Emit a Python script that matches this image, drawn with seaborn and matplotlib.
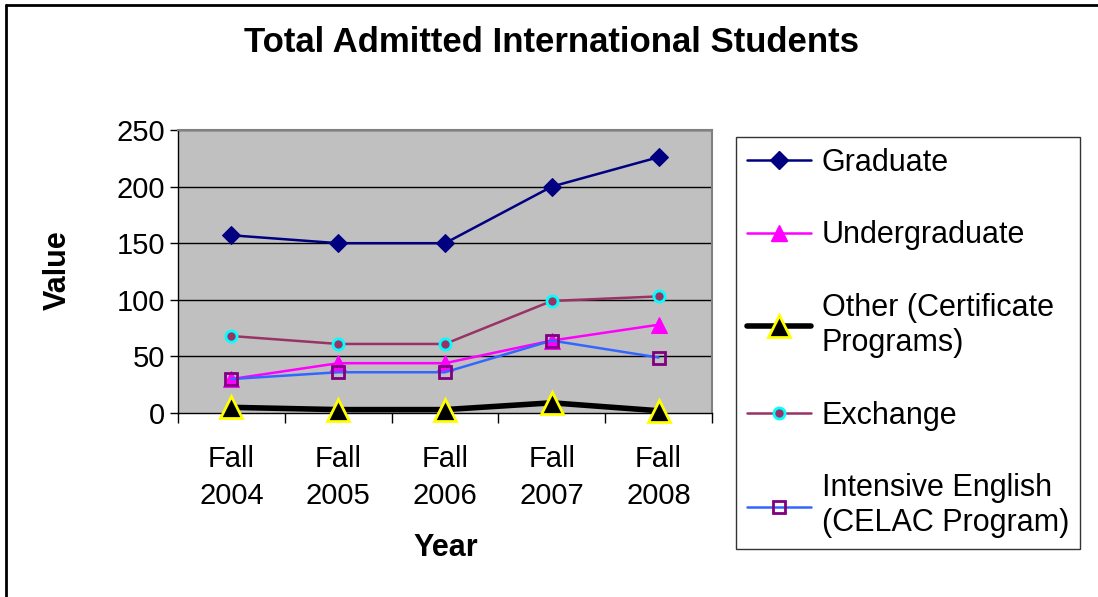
import matplotlib
matplotlib.use("Agg")
import matplotlib.pyplot as plt
import seaborn as sns
import pandas as pd
from matplotlib.lines import Line2D

# Datos
years = ["Fall\n2004", "Fall\n2005", "Fall\n2006", "Fall\n2007", "Fall\n2008"]
graduate = [157, 150, 150, 200, 226]
undergraduate = [30, 44, 44, 64, 78]
other = [5, 3, 3, 9, 2]
exchange = [68, 61, 61, 99, 103]
intensive_english = [30, 36, 36, 64, 49]

series_names = ["Graduate", "Undergraduate", "Other (Certificate\nPrograms)",
                "Exchange", "Intensive English\n(CELAC Program)"]
yticks = [0, 50, 100, 150, 200, 250]

sns.set_style("white")
plt.rcParams['font.family'] = ['Liberation Sans', 'DejaVu Sans']
plt.rcParams['text.color'] = 'black'
plt.rcParams['axes.labelcolor'] = 'black'
plt.rcParams['xtick.color'] = 'black'
plt.rcParams['ytick.color'] = 'black'

fig = plt.figure(figsize=(10.98, 5.97), dpi=100)
ax = fig.add_axes([178/1098, 1 - 413/597, 534/1098, 283/597])
ax.set_facecolor("#C0C0C0")

# estilos por serie
styles = [
    dict(color="#000080", marker="D", markersize=9, markerfacecolor="#000080",
         markeredgecolor="#000080", linewidth=1.8),
    dict(color="#FF00FF", marker="^", markersize=11, markerfacecolor="#FF00FF",
         markeredgecolor="#FF00FF", linewidth=1.8),
    dict(color="black", marker="^", markersize=16, markerfacecolor="black",
         markeredgecolor="#FFFF00", markeredgewidth=2, linewidth=4),
    dict(color="#993366", marker="o", markersize=8, markerfacecolor="#993366",
         markeredgecolor="#00FFFF", markeredgewidth=2, linewidth=1.8),
    dict(color="#3366FF", marker="s", markersize=9, markerfacecolor="none",
         markeredgecolor="#800080", markeredgewidth=2, linewidth=1.8),
]
data_list = [graduate, undergraduate, other, exchange, intensive_english]

# lineas de la grilla
for yt in yticks[1:]:
    ax.axhline(yt, color="black", linewidth=1.0, zorder=0.5)

handles = []
for name, vals, st in zip(series_names, data_list, styles):
    df = pd.DataFrame({"year": years, "value": vals})
    sns.lineplot(data=df, x="year", y="value", ax=ax, sort=False, zorder=3,
                 clip_on=False, **st)
    handles.append(Line2D([0], [0], **st))

ax.set_xlim(-0.5, 4.5)
ax.set_ylim(0, 250)
ax.set_yticks(yticks)
ax.set_xticks(range(5))
ax.set_xticklabels(years, fontsize=21, linespacing=1.4)
ax.tick_params(axis="y", labelsize=21, length=6, width=1, direction="out", left=True, pad=3)
ax.tick_params(axis="x", length=0, pad=23)
# marcas entre categorias
ax.set_xticks([i + 0.5 for i in range(-1, 5)], minor=True)
ax.tick_params(axis="x", which="minor", length=7, width=1, direction="out", bottom=True)

for s in ["top", "right"]:
    ax.spines[s].set_color("#808080")
    ax.spines[s].set_linewidth(1.5)
for s in ["left", "bottom"]:
    ax.spines[s].set_color("black")
    ax.spines[s].set_linewidth(1.0)

ax.set_xlabel("")
ax.set_ylabel("")
fig.text(446/1098, 1 - 548/597, "Year", ha="center", va="center",
         fontsize=22, fontweight="bold")
fig.text(58/1098, 1 - 270/597, "Value", ha="center", va="center",
         fontsize=22, fontweight="bold", rotation=90)
fig.text(552/1098, 1 - 42/597, "Total Admitted International Students",
         ha="center", va="center", fontsize=25, fontweight="bold")

leg = fig.legend(handles, series_names, loc="upper left",
                 bbox_to_anchor=(736/1098, 1 - 137/597), bbox_transform=fig.transFigure,
                 fontsize=22, frameon=True, fancybox=False, edgecolor="black",
                 handlelength=2.1, handletextpad=0.35, labelspacing=1.4,
                 borderpad=0.35, borderaxespad=0)
leg.get_frame().set_linewidth(1.0)

# marco exterior (solo arriba e izquierda)
fig.add_artist(Line2D([6/1098, 6/1098], [0, 1 - 5/597], transform=fig.transFigure,
                      color="black", linewidth=2))
fig.add_artist(Line2D([6/1098, 1], [1 - 5/597, 1 - 5/597], transform=fig.transFigure,
                      color="black", linewidth=2))

fig.savefig("out.png", dpi=100)
